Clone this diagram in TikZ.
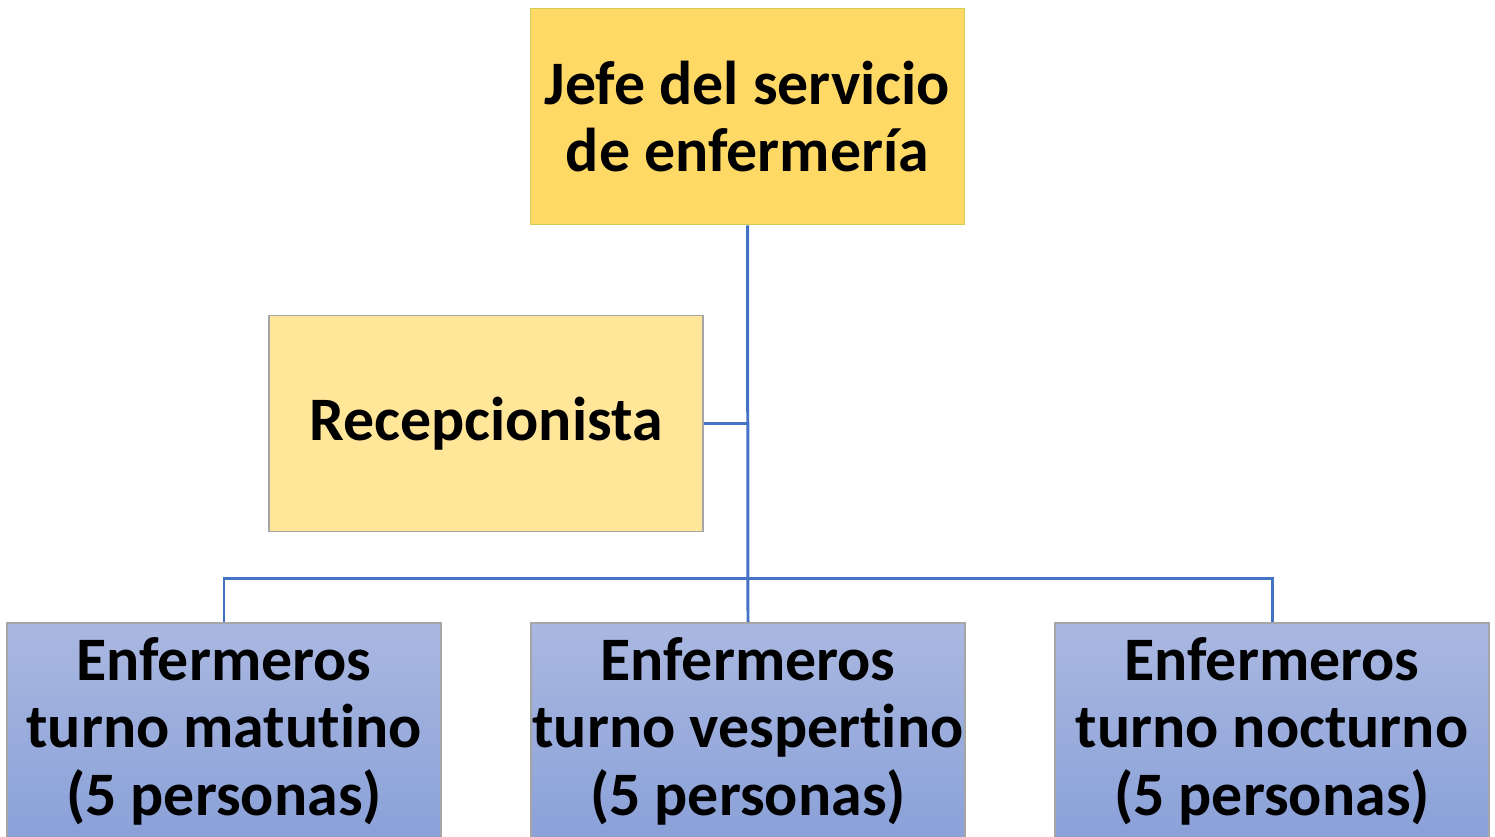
\documentclass[tikz,border=0pt]{standalone}
\usepackage{fontspec}
\setmainfont{Carlito}[Ligatures=NoCommon]
\definecolor{jefeyellow}{HTML}{FFD966}
\definecolor{recepyellow}{HTML}{FFE699}
\definecolor{linkblue}{HTML}{4472C4}
\definecolor{turnotop}{HTML}{AAB8E1}
\definecolor{turnobot}{HTML}{8AA1D8}
\begin{document}
\begin{tikzpicture}[every node/.style={align=center,inner sep=0pt,
     font=\fontsize{17.6}{19.2}\selectfont\bfseries},
   cargo/.style={rectangle,minimum width=4.34cm,minimum height=2.16cm,line width=0.5pt},
   turno/.style={cargo,draw=gray!70,top color=turnotop,bottom color=turnobot},
   conn/.style={draw=linkblue,line width=0.85pt}]
\useasboundingbox (0,0) rectangle (14.95,8.36);
\node[cargo,fill=jefeyellow,draw=yellow!60!gray] (jefe) at (7.475,7.195) {Jefe del servicio\\de enfermería};
\node[cargo,fill=recepyellow,draw=gray!70] (recep) at (4.86,4.125) {Recepcionista};
\node[turno] (mat) at (2.24,1.05) {Enfermeros\\turno matutino\\(5 personas)};
\node[turno] (ves) at (7.48,1.05) {Enfermeros\\turno vespertino\\(5 personas)};
\node[turno] (noc) at (12.72,1.05) {Enfermeros\\turno nocturno\\(5 personas)};
\coordinate (bar) at (7.48,2.58);
\draw[conn] (jefe.south) -- (ves.north);
\draw[conn] (recep.east) -- (recep.east -| jefe.south);
\draw[conn] (mat.north) |- (bar) -| (noc.north);
\end{tikzpicture}
\end{document}
